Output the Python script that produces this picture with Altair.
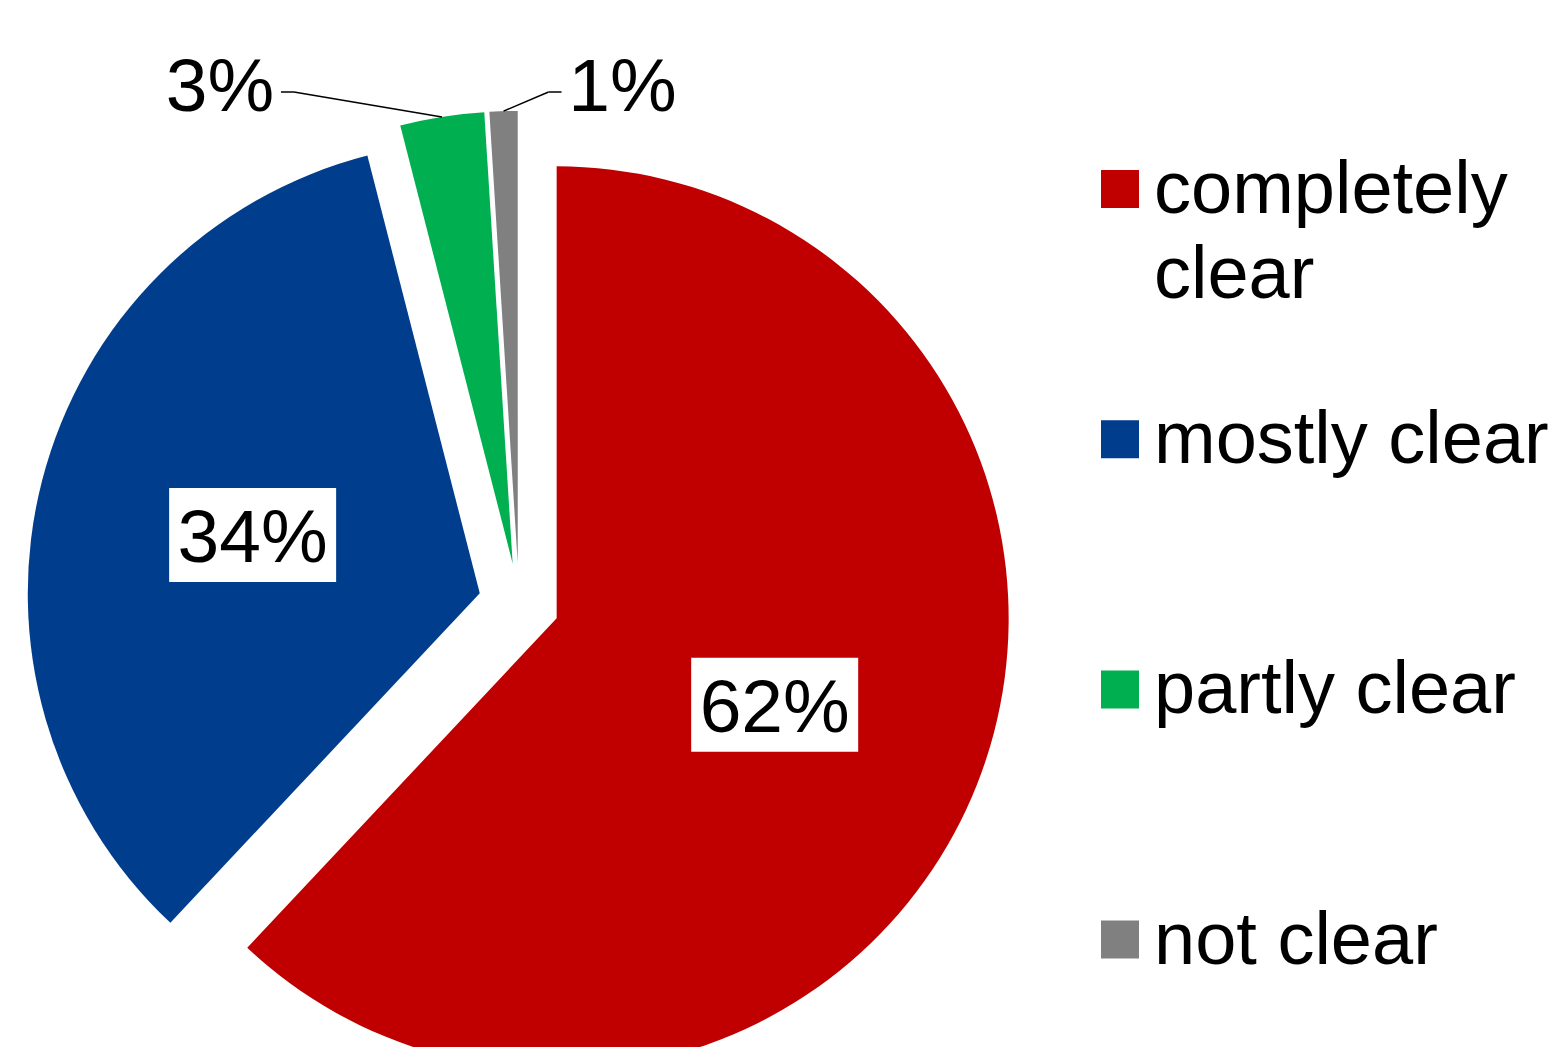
import altair as alt
import pandas as pd

# ---- data ----
categories = ["completely clear", "mostly clear", "partly clear", "not clear"]
values = [62, 34, 3, 1]
colors = ["#C00000", "#003D8C", "#00B050", "#808080"]

df = pd.DataFrame({"category": categories, "value": values, "order": list(range(len(categories)))})

# ---- layout constants (pixels, chart coordinates) ----
W, H = 1542, 1039
CX, CY = 511, 595.4      # pie centre
R = 452                  # pie radius
EXPLODE = 40.5           # slice explosion distance
LABEL_R = 275            # radius of inside labels
BOX_HW, BOX_HH = 83.5, 47  # half size of white label boxes
INNER_FS = 75
OUTER_FS = 75
LEG_FS = 74
LEADER_Y = 84
ELBOW_DX_LEFT, ELBOW_DX_RIGHT = -148, 45
LEG_TOP, LEG_STEP = 181, 250.2
LEG_SQ_X, LEG_TX_X = 1112, 1146
FONT = "Liberation Sans"

color = alt.Color("category:N", scale=alt.Scale(domain=categories, range=colors), legend=None)

base = (
    alt.Chart(df)
    .transform_joinaggregate(total="sum(value)")
    .transform_window(cum="sum(value)", sort=[alt.SortField("order")], frame=[None, 0])
    .transform_calculate(
        start="2*PI*(datum.cum - datum.value)/datum.total",
        end="2*PI*datum.cum/datum.total",
    )
    .transform_calculate(mid="(datum.start + datum.end)/2")
    .transform_calculate(
        ax=f"{CX} + {EXPLODE}*sin(datum.mid)",
        ay=f"{CY} - {EXPLODE}*cos(datum.mid)",
        pct="format(datum.value/datum.total, '.0%')",
    )
)

arcs = base.mark_arc(outerRadius=R, clip=True).encode(
    x=alt.X("ax:Q", scale=None, axis=None),
    y=alt.Y("ay:Q", scale=None, axis=None),
    theta=alt.Theta("start:Q", scale=None),
    theta2="end:Q",
    color=color,
)

inner = base.transform_filter("datum.value >= 5").transform_calculate(
    lx=f"{CX} + {LABEL_R}*sin(datum.mid)",
    ly=f"{CY} - {LABEL_R}*cos(datum.mid)",
).transform_calculate(
    bx1=f"datum.lx - {BOX_HW}", bx2=f"datum.lx + {BOX_HW}",
    by1=f"datum.ly - {BOX_HH}", by2=f"datum.ly + {BOX_HH}",
    ty="datum.ly + 27",
)

boxes = inner.mark_rect(color="white").encode(
    x=alt.X("bx1:Q", scale=None), x2="bx2:Q",
    y=alt.Y("by1:Q", scale=None), y2="by2:Q",
)
inner_text = inner.mark_text(font=FONT, fontSize=INNER_FS, align="center", baseline="alphabetic", color="black").encode(
    x=alt.X("lx:Q", scale=None), y=alt.Y("ty:Q", scale=None), text="pct:N"
)

outer = (
    base.transform_filter("datum.value < 5")
    .transform_window(rk="row_number()", sort=[alt.SortField("order")])
    .transform_calculate(side="datum.rk == 1 ? -1 : 1")
    .transform_calculate(
        ox=f"{CX} + {R + EXPLODE}*sin(datum.mid)",
        oy=f"{CY} - {R + EXPLODE}*cos(datum.mid)",
    )
    .transform_calculate(
        ex=f"datum.ox + (datum.side < 0 ? {ELBOW_DX_LEFT} : {ELBOW_DX_RIGHT})",
        ey=f"{LEADER_Y}",
    )
    .transform_calculate(endx="datum.ex + datum.side*13")
    .transform_calculate(tx="datum.endx + datum.side*61", ty=f"{LEADER_Y} + 19")
)

lead1 = outer.mark_rule(color="black", strokeWidth=1.5).encode(
    x=alt.X("ox:Q", scale=None), y=alt.Y("oy:Q", scale=None), x2="ex:Q", y2="ey:Q"
)
lead2 = outer.mark_rule(color="black", strokeWidth=1.5).encode(
    x=alt.X("ex:Q", scale=None), y=alt.Y("ey:Q", scale=None), x2="endx:Q", y2="ey:Q"
)
outer_text = outer.mark_text(font=FONT, fontSize=OUTER_FS, align="center", baseline="alphabetic", color="black").encode(
    x=alt.X("tx:Q", scale=None), y=alt.Y("ty:Q", scale=None), text="pct:N"
)

leg = (
    alt.Chart(df)
    .transform_window(idx="row_number()", sort=[alt.SortField("order")])
    .transform_calculate(
        gy=f"{LEG_TOP} + (datum.idx - 1)*{LEG_STEP}",
        lab="length(datum.category) > 12 ? replace(datum.category, ' ', '\\n') : datum.category",
        gx=f"{LEG_SQ_X}",
        tx=f"{LEG_TX_X}",
    )
    .transform_calculate(gty="datum.gy + 24")
)
leg_sq = leg.mark_square(size=38 * 38, opacity=1).encode(
    x=alt.X("gx:Q", scale=None), y=alt.Y("gy:Q", scale=None), color=color
)
leg_tx = leg.mark_text(font=FONT, fontSize=LEG_FS, align="left", baseline="alphabetic", lineBreak="\n", lineHeight=85, color="black").encode(
    x=alt.X("tx:Q", scale=None), y=alt.Y("gty:Q", scale=None), text="lab:N"
)

chart = (
    alt.layer(arcs, boxes, inner_text, lead1, lead2, outer_text, leg_sq, leg_tx)
    .properties(width=W, height=H, autosize=alt.AutoSizeParams(type="none"), padding=0)
    .configure_view(stroke=None)
)

chart.save("out.html", embed_options={"renderer": "svg", "actions": False})
